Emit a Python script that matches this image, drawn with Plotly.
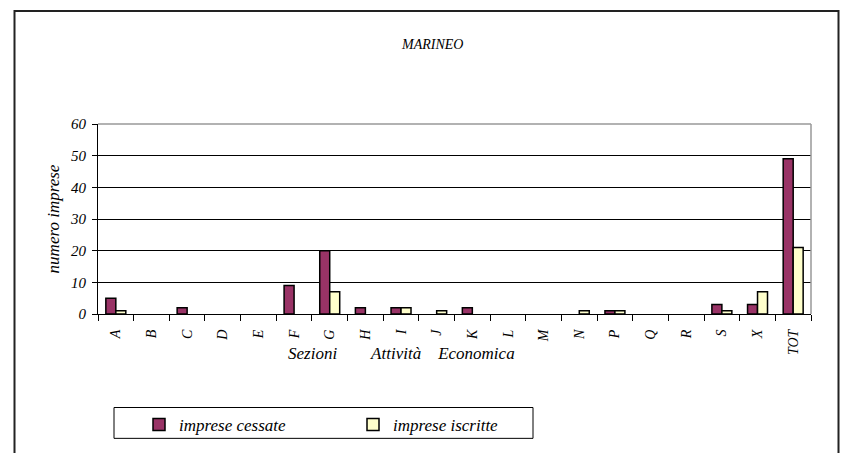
import plotly.graph_objects as go

categories = ["A", "B", "C", "D", "E", "F", "G", "H", "I", "J", "K", "L", "M", "N", "P", "Q", "R", "S", "X", "TOT"]
cessate = [5, 0, 2, 0, 0, 9, 20, 2, 2, 0, 2, 0, 0, 0, 1, 0, 0, 3, 3, 49]
iscritte = [1, 0, 0, 0, 0, 0, 7, 0, 2, 1, 0, 0, 0, 1, 1, 0, 0, 1, 7, 21]
y_ticks = [0, 10, 20, 30, 40, 50, 60]

W, H = 843, 453
L, R, T, B = 98, 811, 124, 315
pw, ph = R - L, B - T

def px(x):
    return (x - L) / pw

def py(y):
    return (B - y) / ph

SERIF = "Liberation Serif"

def outline(values):
    return [1.5 if v else 0 for v in values]

fig = go.Figure()
fig.add_trace(go.Bar(
    x=categories, y=cessate, name="imprese cessate",
    marker=dict(color="#993366", line=dict(color="black", width=outline(cessate))),
))
fig.add_trace(go.Bar(
    x=categories, y=iscritte, name="imprese iscritte",
    marker=dict(color="#FFFFCC", line=dict(color="black", width=outline(iscritte))),
))

fig.update_layout(
    width=W, height=H,
    margin=dict(l=L, r=W - R, t=T, b=H - B, pad=0),
    paper_bgcolor="white", plot_bgcolor="white",
    barmode="group", bargap=0.44, bargroupgap=0,
    font=dict(family=SERIF, color="black", style="italic"),
    showlegend=True,
    legend=dict(
        orientation="h", x=px(139), y=py(425), xanchor="left", yanchor="middle",
        font=dict(family=SERIF, size=17, style="italic", color="black"),
        entrywidth=169, entrywidthmode="pixels",
        bgcolor="rgba(0,0,0,0)", borderwidth=0,
    ),
    xaxis=dict(
        type="category", tickangle=-90,
        ticks="outside", ticklen=6, tickcolor="black", tickson="boundaries",
        showline=True, linecolor="black", linewidth=1,
        tickfont=dict(family=SERIF, size=14, style="italic", color="black"),
        ticklabelstandoff=9,
        showgrid=False, zeroline=False,
    ),
    yaxis=dict(
        range=[0, 60], tickvals=y_ticks,
        ticks="outside", ticklen=5, tickcolor="black",
        showline=True, linecolor="black", linewidth=1,
        showgrid=True, gridcolor="black", gridwidth=1,
        zeroline=False,
        tickfont=dict(family=SERIF, size=15, style="italic", color="black"),
        ticklabelstandoff=3,
        title=dict(text="numero imprese", standoff=6,
                   font=dict(family=SERIF, size=17, style="italic", color="black")),
    ),
    shapes=[
        dict(type="line", xref="paper", yref="paper", x0=0, x1=1, y0=1, y1=1,
             line=dict(color="#999999", width=1.5), layer="above"),
        dict(type="line", xref="paper", yref="paper", x0=1, x1=1, y0=0, y1=1,
             line=dict(color="#999999", width=1.5), layer="above"),
        dict(type="rect", xref="paper", yref="paper",
             x0=px(14.5), x1=px(838.5), y0=py(470), y1=py(10.5),
             line=dict(color="#222222", width=2), layer="above"),
        dict(type="rect", xref="paper", yref="paper",
             x0=px(114), x1=px(533), y0=py(440), y1=py(409),
             line=dict(color="black", width=1), layer="above"),
    ],
    annotations=[
        dict(text="MARINEO", xref="paper", yref="paper", x=px(432), y=py(44),
             showarrow=False, xanchor="center", yanchor="middle",
             font=dict(family=SERIF, size=14, style="italic", color="black")),
        dict(text="Sezioni\u00a0\u00a0\u00a0\u00a0\u00a0\u00a0\u00a0\u00a0Attività\u00a0\u00a0\u00a0\u00a0Economica",
             xref="paper", yref="paper", x=px(401), y=py(355),
             showarrow=False, xanchor="center", yanchor="middle",
             font=dict(family=SERIF, size=17, style="italic", color="black")),
    ],
)

fig.write_html("out.html", config={"displayModeBar": False},
               post_script="document.body.style.margin='0';document.body.style.padding='0';")
